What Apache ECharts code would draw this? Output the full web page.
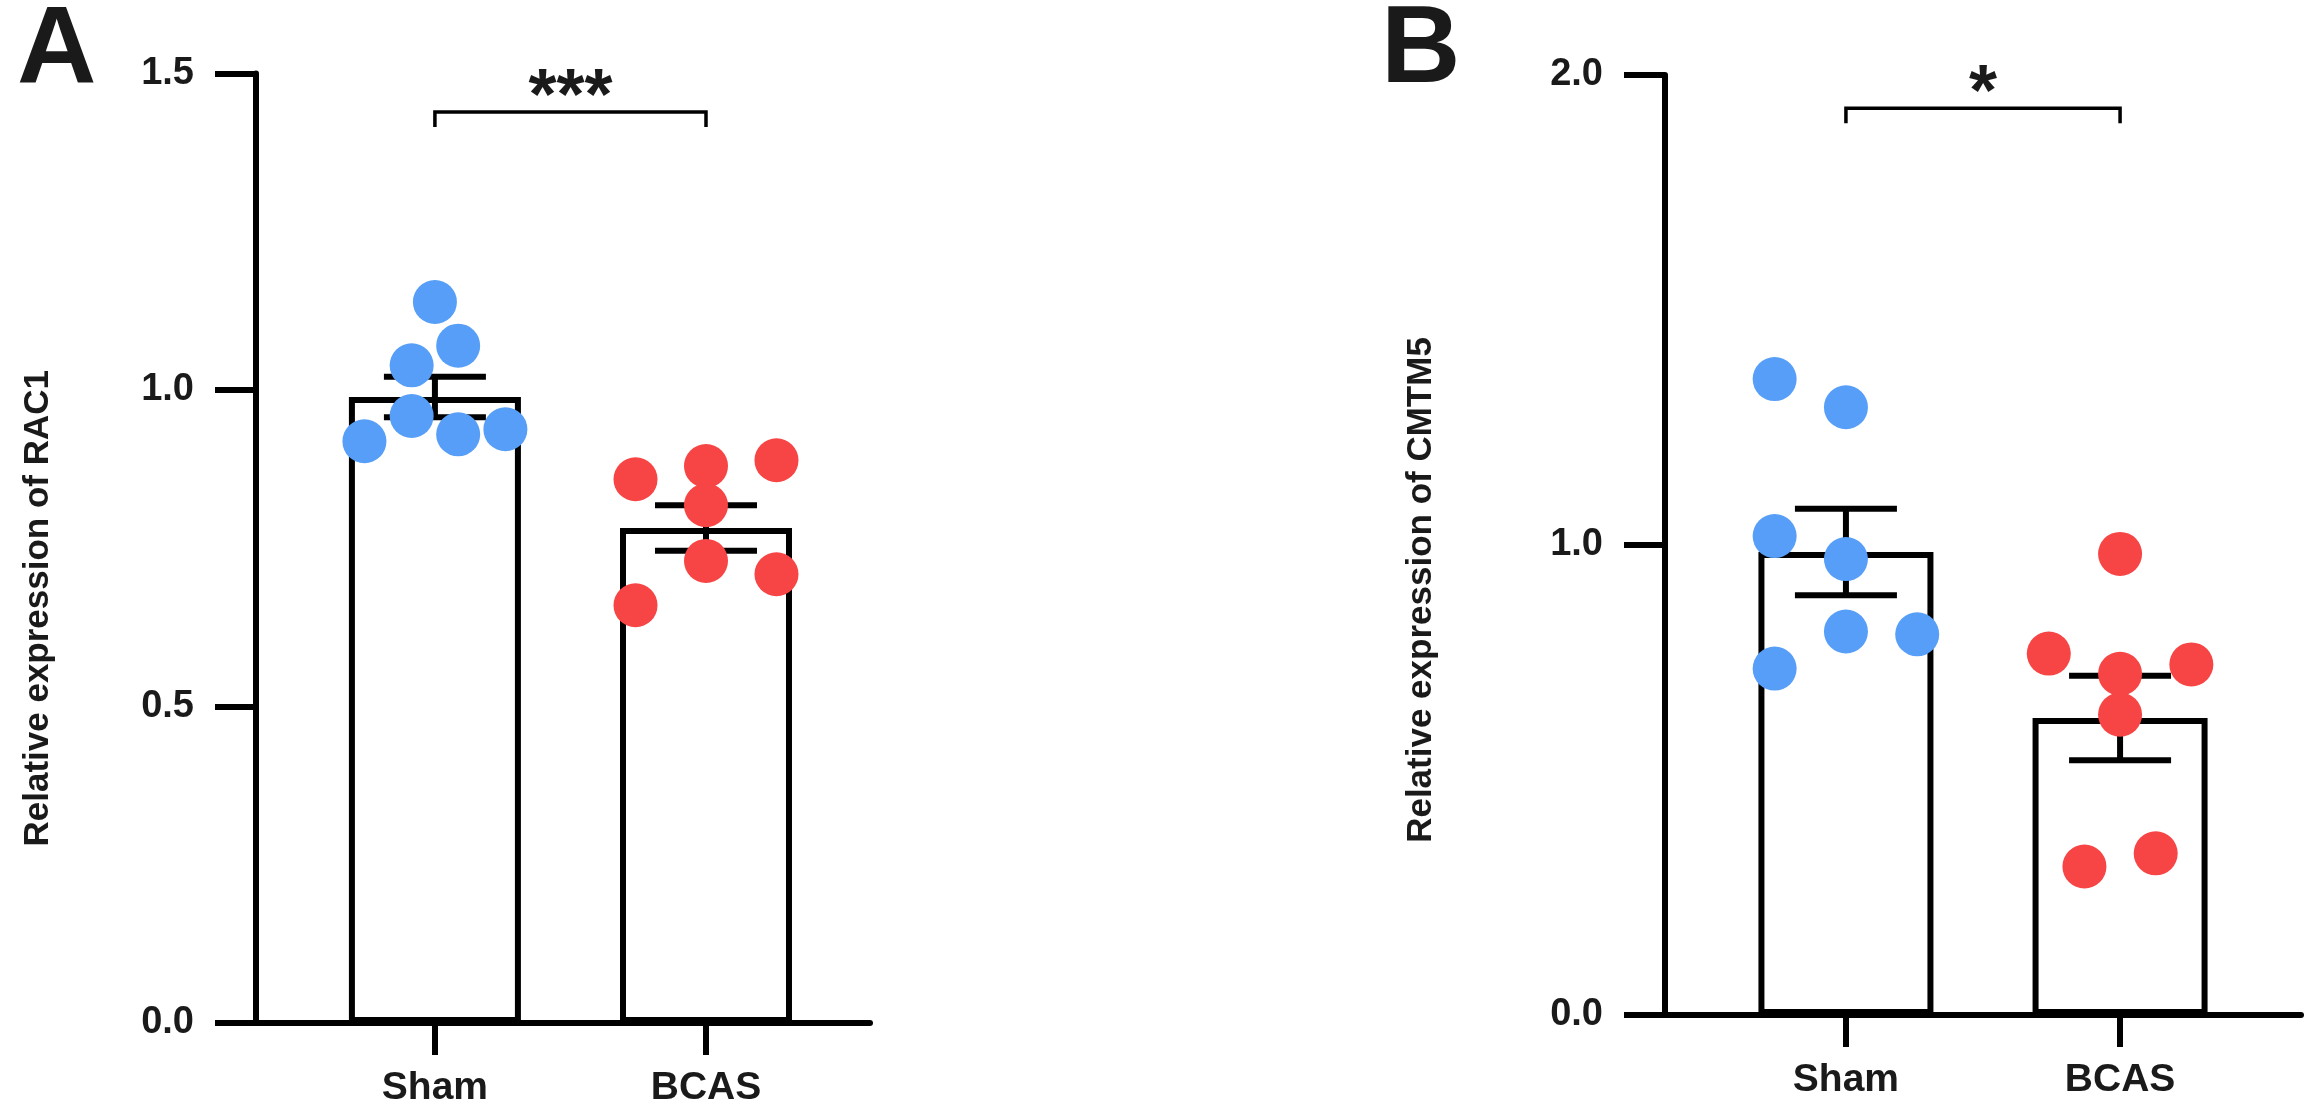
<!DOCTYPE html>
<html>
<head>
<meta charset="utf-8">
<script src="https://cdn.jsdelivr.net/npm/echarts@6/dist/echarts.min.js"></script>
<style>
html, body { margin: 0; padding: 0; background: #fff; }
#main { width: 2313px; height: 1117px; }
</style>
</head>
<body>
<div id="main"></div>
<script>
var categories = ['Sham', 'BCAS'];

// panel A: RAC1
var racSham = [1.139, 1.070, 1.039, 0.959, 0.919, 0.930, 0.938];
var racShamJitter = [0, 0.33, -0.33, -0.33, -1, 0.33, 1];
var racBcas = [0.859, 0.880, 0.889, 0.818, 0.730, 0.660, 0.709];
var racBcasJitter = [-1, 0, 1, 0, 0, -1, 1];
var racMean = [0.989, 0.782];
var racSem = [0.032, 0.036];

// panel B: CMTM5
var cmtmSham = [1.353, 1.293, 1.019, 0.970, 0.816, 0.810, 0.737];
var cmtmShamJitter = [-1, 0, -1, 0, 0, 1, -1];
var cmtmBcas = [0.981, 0.769, 0.726, 0.746, 0.639, 0.316, 0.344];
var cmtmBcasJitter = [0, -1, 0, 1, 0, -0.5, 0.5];
var cmtmMean = [0.985, 0.632];
var cmtmSem = [0.092, 0.090];

// significance brackets (label, bracket height in axis units)
var sigLabels = ['***', '*'];
var sigHeights = [1.439, 1.929];

var FONT = 'Liberation Sans';
var INK = '#1a1a1a';
var BLUE = '#569ef7';
var RED = '#f74444';
var JIT = 0.26;

var dom = document.getElementById('main');
var chart = echarts.init(dom);

function points(vals, jit, pos) {
    return vals.map(function (v, i) { return [pos + jit[i] * JIT, v]; });
}

function errorItem(params, api) {
    var x = api.value(0), m = api.value(1), s = api.value(2);
    var top = api.coord([x, m + s]);
    var bot = api.coord([x, m - s]);
    var cap = 51;
    var st = { stroke: '#000', lineWidth: 6 };
    return {
        type: 'group',
        children: [
            { type: 'line', shape: { x1: top[0], y1: top[1], x2: bot[0], y2: bot[1] }, style: st },
            { type: 'line', shape: { x1: top[0] - cap, y1: top[1], x2: top[0] + cap, y2: top[1] }, style: st },
            { type: 'line', shape: { x1: bot[0] - cap, y1: bot[1], x2: bot[0] + cap, y2: bot[1] }, style: st }
        ]
    };
}

function bracketItem(params, api) {
    var a = api.coord([api.value(0), api.value(2)]);
    var b = api.coord([api.value(1), api.value(2)]);
    var drop = 15;
    return {
        type: 'group',
        children: [
            {
                type: 'polyline',
                shape: { points: [[a[0], a[1] + drop], [a[0], a[1]], [b[0], b[1]], [b[0], b[1] + drop]] },
                style: { stroke: '#000', lineWidth: 3.5, fill: null }
            },
            {
                type: 'text',
                x: (a[0] + b[0]) / 2,
                y: a[1] - 13,
                style: {
                    text: sigLabels[api.value(3)], fill: INK, font: 'bold 72px ' + FONT,
                    align: 'center', verticalAlign: 'middle'
                }
            }
        ]
    };
}

function xAxisFor(idx, max) {
    return {
        type: 'value', gridIndex: idx, min: 0.34, max: max,
        splitLine: { show: false },
        axisLine: { lineStyle: { color: '#000', width: 6 } },
        axisTick: { customValues: [1, 2], length: 32, lineStyle: { color: '#000', width: 6 } },
        axisLabel: {
            customValues: [1, 2], margin: 46, color: INK, fontFamily: FONT, fontWeight: 'bold', fontSize: 39,
            formatter: function (v) { return categories[Math.round(v) - 1]; }
        }
    };
}

function yAxisFor(idx, max, step, name, gap, shift) {
    return {
        type: 'value', gridIndex: idx, min: 0, max: max, interval: step,
        name: name, nameLocation: 'middle', nameGap: gap,
        nameTextStyle: {
            color: INK, fontFamily: FONT, fontWeight: 'bold', fontSize: 35,
            padding: [0, shift, 0, 0]
        },
        splitLine: { show: false },
        axisLine: { show: true, lineStyle: { color: '#000', width: 6 } },
        axisTick: { show: true, length: 41, lineStyle: { color: '#000', width: 6 } },
        axisLabel: {
            margin: 62, color: INK, fontFamily: FONT, fontWeight: 'bold', fontSize: 38,
            formatter: function (v) { return v.toFixed(1); }
        }
    };
}

function panelSeries(idx, mean, sem, sham, shamJit, bcas, bcasJit, sigIdx, barW) {
    return [
        {
            type: 'bar', xAxisIndex: idx, yAxisIndex: idx, barWidth: barW,
            itemStyle: { color: '#fff', borderColor: '#000', borderWidth: 6 },
            data: mean.map(function (m, i) { return [i + 1, m]; }),
            z: 2
        },
        {
            type: 'custom', xAxisIndex: idx, yAxisIndex: idx, renderItem: errorItem,
            data: mean.map(function (m, i) { return [i + 1, m, sem[i]]; }),
            z: 3
        },
        {
            type: 'scatter', xAxisIndex: idx, yAxisIndex: idx, symbolSize: 44,
            itemStyle: { color: BLUE, opacity: 1 }, data: points(sham, shamJit, 1), z: 4
        },
        {
            type: 'scatter', xAxisIndex: idx, yAxisIndex: idx, symbolSize: 44,
            itemStyle: { color: RED, opacity: 1 }, data: points(bcas, bcasJit, 2), z: 4
        },
        {
            type: 'custom', xAxisIndex: idx, yAxisIndex: idx, renderItem: bracketItem,
            data: [[1, 2, sigHeights[sigIdx], sigIdx]],
            z: 5
        }
    ];
}

var option = {
    backgroundColor: '#fff',
    animation: false,
    title: [
        { text: 'A', left: 12, top: -8, textStyle: { fontSize: 110, fontWeight: 'bold', color: INK, fontFamily: FONT } },
        { text: 'B', left: 1376, top: -8, textStyle: { fontSize: 110, fontWeight: 'bold', color: INK, fontFamily: FONT } }
    ],
    grid: [
        { left: 256, top: 73.5, width: 614, height: 949.5 },
        { left: 1665, top: 75, width: 636, height: 940 }
    ],
    xAxis: [xAxisFor(0, 2.605), xAxisFor(1, 2.66)],
    yAxis: [
        yAxisFor(0, 1.5, 0.5, 'Relative expression of RAC1', 200, 120),
        yAxisFor(1, 2, 1, 'Relative expression of CMTM5', 226, 90)
    ],
    series: []
        .concat(panelSeries(0, racMean, racSem, racSham, racShamJitter, racBcas, racBcasJitter, 0, 172))
        .concat(panelSeries(1, cmtmMean, cmtmSem, cmtmSham, cmtmShamJitter, cmtmBcas, cmtmBcasJitter, 1, 175))
};

chart.setOption(option);
</script>
</body>
</html>
